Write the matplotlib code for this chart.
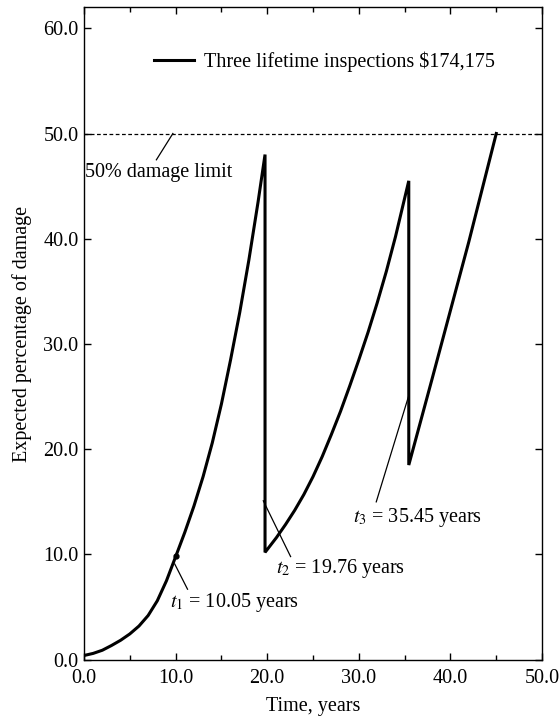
import matplotlib.pyplot as plt

plt.rcParams['font.family'] = ['Liberation Serif', 'DejaVu Serif']
plt.rcParams['mathtext.fontset'] = 'stix'

# expected damage path (%), drops at each inspection time
time = [0.0, 1.0, 2.0, 3.0, 4.0, 5.0, 6.0, 7.0, 8.0, 9.0, 10.05, 11.0, 12.0, 13.0,
        14.0, 15.0, 16.0, 17.0, 18.0, 19.0, 19.76,
        19.76, 21.0, 22.0, 23.0, 24.0, 25.0, 26.0, 27.0, 28.0, 29.0, 30.0,
        31.0, 32.0, 33.0, 34.0, 35.45,
        35.45, 38.0, 40.0, 42.0, 45.0]
damage = [0.4, 0.6, 0.9, 1.35, 1.85, 2.45, 3.2, 4.2, 5.6, 7.5, 9.9, 12.1, 14.6, 17.4,
          20.6, 24.3, 28.5, 33.0, 38.0, 43.5, 48.0,
          10.2, 11.6, 12.85, 14.2, 15.7, 17.4, 19.3, 21.4, 23.6, 26.0, 28.5,
          31.1, 33.9, 36.9, 40.2, 45.5,
          18.5, 26.7, 33.2, 39.7, 50.0]

limit = 50.0
insp_times = [10.05, 19.76, 35.45]
insp_labels = [r'$t_1$ = 10.05 years', r'$t_2$ = 19.76 years', r'$t_3$ = 35.45 years']
# leader line ends (from, to) and label anchors
leader_from = [(9.9, 9.1), (19.57, 15.1), (35.45, 25.1)]
leader_to = [(11.3, 6.7), (22.55, 9.8), (31.9, 15.0)]
label_pos = [(9.4, 5.4), (20.96, 8.7), (29.4, 13.55)]

fig = plt.figure(figsize=(5.6, 7.21), dpi=100)
ax = fig.add_axes([0.15, 0.085, 0.818, 0.905])

ax.axhline(limit, color='black', lw=0.9, linestyle=(0, (3, 2)))
ax.plot(time, damage, color='black', lw=2.2, solid_joinstyle='miter',
        label=r'Three lifetime inspections \$174,175')
ax.plot([insp_times[0]], [9.9], 'o', color='black', ms=3.5)

for (x0, y0), (x1, y1), (tx, ty), lab in zip(leader_from, leader_to, label_pos, insp_labels):
    ax.plot([x0, x1], [y0, y1], color='black', lw=0.9)
    ax.text(tx, ty, lab, fontsize=14.5, ha='left', va='center')

ax.plot([9.7, 7.9], [50, 47.5], color='black', lw=0.9)
ax.text(0.1, 46.3, '50% damage limit', fontsize=14.5, ha='left', va='center')

ax.legend(loc='center left', bbox_to_anchor=(0.153, 0.916), frameon=False,
          fontsize=14.5, handlelength=2.0, handletextpad=0.5, borderpad=0,
          borderaxespad=0)

ax.set_xlim(0, 50)
ax.set_ylim(0, 62)
ax.set_xticks([0, 10, 20, 30, 40, 50])
ax.set_xticks([5, 15, 25, 35, 45], minor=True)
ax.set_yticks([0, 10, 20, 30, 40, 50, 60])
ax.set_xticklabels([f'{v:.1f}' for v in ax.get_xticks()])
ax.set_yticklabels([f'{v:.1f}' for v in ax.get_yticks()])
ax.tick_params(which='both', direction='in', top=True, right=True,
               labelsize=14.5, width=1.0)
ax.tick_params(which='major', length=5)
ax.tick_params(which='minor', length=3.5)
ax.tick_params(axis='x', pad=7)
ax.tick_params(axis='y', pad=4)
for s in ax.spines.values():
    s.set_linewidth(1.0)

ax.set_xlabel('Time, years', fontsize=14.5, labelpad=6)
ax.set_ylabel('Expected percentage of damage', fontsize=14.5, labelpad=8)

fig.savefig('out.png', dpi=100)
